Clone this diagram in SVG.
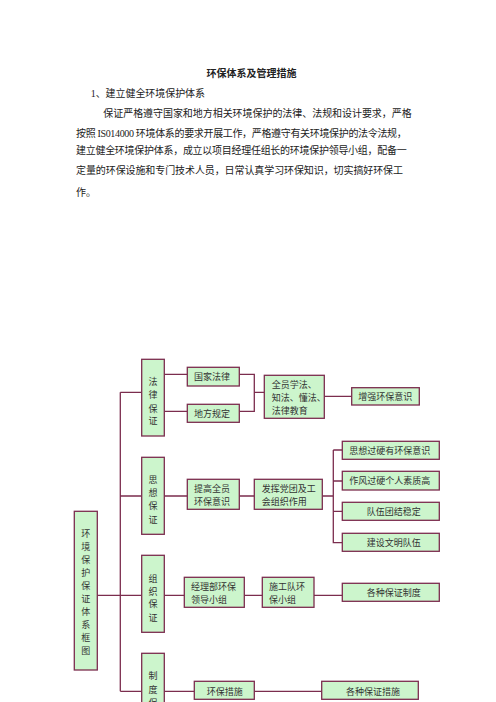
<svg xmlns="http://www.w3.org/2000/svg" width="496" height="702" viewBox="0 0 496 702">
<style>
.b{fill:#ccf5cc;stroke:#7b2d4e;stroke-width:1.3}
.l{fill:none;stroke:#7b2d4e;stroke-width:1.3}
text{font-family:"Liberation Serif","Noto Sans CJK SC",serif;fill:#222}
.t{font-size:9px;fill:#333}
.p{font-size:10px}
</style>
<rect width="496" height="702" fill="#fff"/>
<g id="header">
<text x="251.5" y="77" text-anchor="middle" style="font-size:10px;font-weight:bold">环保体系及管理措施</text>
<text class="p" x="90.7" y="97" textLength="114.3">1、建立健全环境保护体系</text>
<text class="p" x="103.3" y="117" textLength="308.4">保证严格遵守国家和地方相关环境保护的法律、法规和设计要求，严格</text>
<text class="p" x="76" y="136.5" textLength="330.7">按照 IS014000 环境体系的要求开展工作，严格遵守有关环境保护的法令法规，</text>
<text class="p" x="76" y="154" textLength="330.7">建立健全环境保护体系，成立以项目经理任组长的环境保护领导小组，配备一</text>
<text class="p" x="76" y="174" textLength="327">定量的环保设施和专门技术人员，日常认真学习环保知识，切实搞好环保工</text>
<text class="p" x="76" y="196">作。</text>
</g>
<g id="connectors">
<path class="l" d="M97.3 595.3H120.3M120.3 392.3V691.3M120.3 392.3H141.7M120.3 496H141.7M120.3 595.3H141.7M120.3 691.3H141.7"/>
<path class="l" d="M164.3 374.3H187.3M164.3 411.3H187.3M239.3 374.3H254.3V411.3H239.3M254.3 392.3H264.3M324.3 396.3H351.7"/>
<path class="l" d="M164.3 496H187.3M239.3 496H254.3M322.3 496H333.3M333.3 450H342.3M333.3 450V542.7H342.3M333.3 481H342.3M333.3 511.3H342.3"/>
<path class="l" d="M164.3 595.3H184.3M244.3 595.3H262.3M314 595.3H342.3"/>
<path class="l" d="M164.3 691.3H194.3M254.3 691.3H321.7"/>
</g>
<g id="n-root"><rect class="b" x="74.3" y="511.3" width="23" height="158.7"/>
<text class="t" x="85.8" text-anchor="middle"><tspan x="85.8" y="536.5">环</tspan><tspan x="85.8" y="549.6">境</tspan><tspan x="85.8" y="562.6">保</tspan><tspan x="85.8" y="575.7">护</tspan><tspan x="85.8" y="588.7">保</tspan><tspan x="85.8" y="601.8">证</tspan><tspan x="85.8" y="614.8">体</tspan><tspan x="85.8" y="627.9">系</tspan><tspan x="85.8" y="640.9">框</tspan><tspan x="85.8" y="654">图</tspan></text></g>
<g id="n-falv"><rect class="b" x="141.7" y="359.3" width="22.6" height="76.7"/>
<text class="t" text-anchor="middle"><tspan x="153" y="385">法</tspan><tspan x="153" y="398.2">律</tspan><tspan x="153" y="411.5">保</tspan><tspan x="153" y="424">证</tspan></text></g>
<g id="n-sixiang"><rect class="b" x="141.7" y="457.3" width="22.6" height="77"/>
<text class="t" text-anchor="middle"><tspan x="153" y="482.5">思</tspan><tspan x="153" y="496">想</tspan><tspan x="153" y="509.2">保</tspan><tspan x="153" y="522.5">证</tspan></text></g>
<g id="n-zuzhi"><rect class="b" x="141.7" y="555.3" width="22.6" height="77"/>
<text class="t" text-anchor="middle"><tspan x="153" y="581.5">组</tspan><tspan x="153" y="594.9">织</tspan><tspan x="153" y="607.2">保</tspan><tspan x="153" y="620.5">证</tspan></text></g>
<g id="n-zhidu"><rect class="b" x="141.7" y="653.3" width="22.6" height="70"/>
<text class="t" text-anchor="middle"><tspan x="153" y="679.2">制</tspan><tspan x="153" y="692.5">度</tspan><tspan x="153" y="705.8">保</tspan></text></g>
<g id="n-guojia"><rect class="b" x="187.3" y="367.3" width="52" height="18.7"/>
<text class="t" x="194" y="380">国家法律</text></g>
<g id="n-difang"><rect class="b" x="187.3" y="404.3" width="52" height="18"/>
<text class="t" x="194" y="416.5">地方规定</text></g>
<g id="n-quanyuan"><rect class="b" x="264.3" y="375.3" width="60" height="43"/>
<text class="t"><tspan x="271.7" y="388.2">全员学法、</tspan><tspan x="271.7" y="400.9">知法、懂法、</tspan><tspan x="271.7" y="414.2">法律教育</tspan></text></g>
<g id="n-zengqiang"><rect class="b" x="351.7" y="387.7" width="67.6" height="17.3"/>
<text class="t" x="358.3" y="399.5">增强环保意识</text></g>
<g id="n-tigao"><rect class="b" x="187.3" y="479.3" width="52" height="30"/>
<text class="t"><tspan x="194" y="491.5">提高全员</tspan><tspan x="194" y="504.9">环保意识</tspan></text></g>
<g id="n-fahui"><rect class="b" x="254.3" y="479.3" width="68" height="30"/>
<text class="t"><tspan x="261.7" y="491.5">发挥党团及工</tspan><tspan x="261.7" y="504.9">会组织作用</tspan></text></g>
<g id="n-s1"><rect class="b" x="342.3" y="441.3" width="97" height="18"/>
<text class="t" x="349.3" y="453.5">思想过硬有环保意识</text></g>
<g id="n-s2"><rect class="b" x="342.3" y="471.3" width="97" height="18.7"/>
<text class="t" x="349.3" y="483.9">作风过硬个人素质高</text></g>
<g id="n-s3"><rect class="b" x="342.3" y="502.3" width="97" height="18"/>
<text class="t" x="366.7" y="514.5">队伍团结稳定</text></g>
<g id="n-s4"><rect class="b" x="342.3" y="533.3" width="97" height="18"/>
<text class="t" x="366.7" y="545.5">建设文明队伍</text></g>
<g id="n-jingli"><rect class="b" x="184.3" y="577.3" width="60" height="30"/>
<text class="t"><tspan x="191" y="589.9">经理部环保</tspan><tspan x="191" y="603.2">领导小组</tspan></text></g>
<g id="n-shigong"><rect class="b" x="262.3" y="577.3" width="51.7" height="30"/>
<text class="t"><tspan x="269" y="589.9">施工队环</tspan><tspan x="269" y="603.2">保小组</tspan></text></g>
<g id="n-zhidu2"><rect class="b" x="342.3" y="583.3" width="97" height="18"/>
<text class="t" x="366.7" y="595.5">各种保证制度</text></g>
<g id="n-huanbao"><rect class="b" x="194.3" y="681.3" width="60" height="18"/>
<text class="t" x="206.7" y="694.5">环保措施</text></g>
<g id="n-cuoshi"><rect class="b" x="321.7" y="681.3" width="96.6" height="18"/>
<text class="t" x="346" y="694.5">各种保证措施</text></g>
</svg>
